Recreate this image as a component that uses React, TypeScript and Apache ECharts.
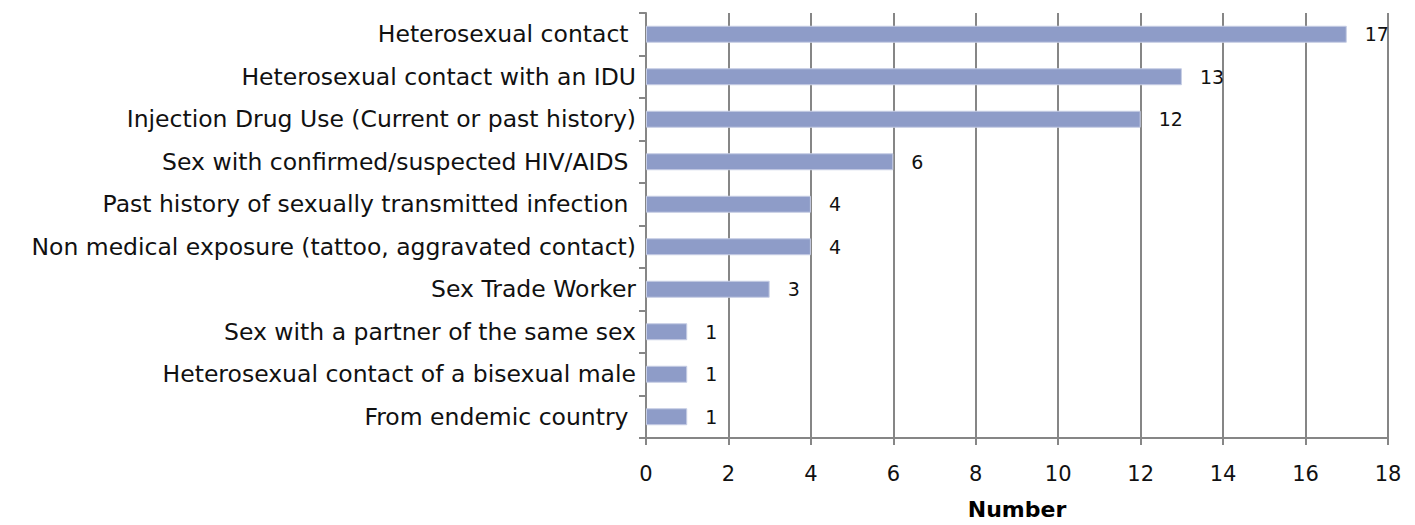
import React, { useEffect, useRef } from "react";
import * as echarts from "echarts";

const categories = [
  "Heterosexual contact ",
  "Heterosexual contact with an IDU",
  "Injection Drug Use (Current or past history)",
  "Sex with confirmed/suspected HIV/AIDS ",
  "Past history of sexually transmitted infection ",
  "Non medical exposure (tattoo, aggravated contact)",
  "Sex Trade Worker",
  "Sex with a partner of the same sex",
  "Heterosexual contact of a bisexual male",
  "From endemic country ",
];
const values = [17, 13, 12, 6, 4, 4, 3, 1, 1, 1];
const xTicks = { min: 0, max: 18, interval: 2 };

export default function App() {
  const ref = useRef<HTMLDivElement>(null);
  useEffect(() => {
    if (!ref.current) return;
    const chart = echarts.init(ref.current, null, { renderer: "svg" });
    const font = "DejaVu Sans";
    const gray = "#868686";
    chart.setOption({
      animation: false,
      textStyle: { fontFamily: font },
      grid: { left: 646, right: 27, top: 13, bottom: 84, containLabel: false },
      xAxis: {
        type: "value",
        min: xTicks.min,
        max: xTicks.max,
        interval: xTicks.interval,
        name: "Number",
        nameLocation: "middle",
        nameGap: 60,
        nameTextStyle: { fontFamily: font, fontSize: 22, fontWeight: "bold", color: "#000" },
        axisLine: { show: true, lineStyle: { color: gray, width: 2 } },
        axisTick: { show: true, length: 7, lineStyle: { color: gray, width: 2 } },
        axisLabel: { fontFamily: font, fontSize: 21, color: "#111", margin: 25 },
        splitLine: { show: true, lineStyle: { color: gray, width: 2 } },
      },
      yAxis: {
        type: "category",
        inverse: true,
        data: categories,
        axisLine: { show: true, lineStyle: { color: gray, width: 2 } },
        axisTick: { show: true, length: 7, lineStyle: { color: gray, width: 2 } },
        axisLabel: { fontFamily: font, fontSize: 23.5, color: "#111", margin: 10 },
        splitLine: { show: false },
      },
      series: [
        {
          type: "bar",
          data: values,
          barWidth: 17,
          itemStyle: { color: "#8E9CC8", borderColor: "#C6CDE4", borderWidth: 1 },
          label: {
            show: true,
            position: "right",
            distance: 18,
            fontFamily: font,
            fontSize: 19,
            color: "#111",
          },
        },
      ],
    });
    return () => chart.dispose();
  }, []);
  return (
    <div
      ref={ref}
      style={{ position: "absolute", left: 0, top: 0, width: 1415, height: 525 }}
    />
  );
}
